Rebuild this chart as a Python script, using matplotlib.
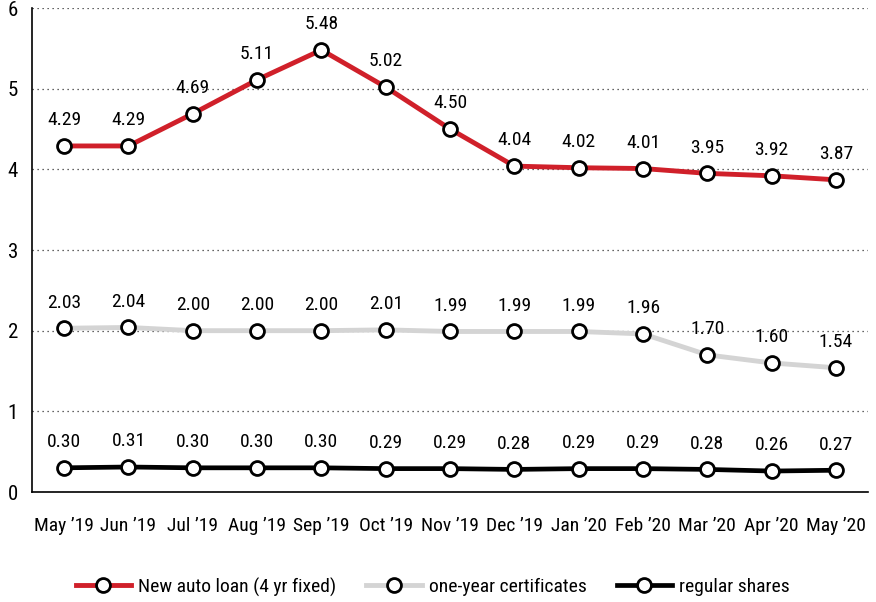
import matplotlib.pyplot as plt

# Data
months = ["May ’19", "Jun ’19", "Jul ’19", "Aug ’19", "Sep ’19", "Oct ’19", "Nov ’19",
          "Dec ’19", "Jan ’20", "Feb ’20", "Mar ’20", "Apr ’20", "May ’20"]
auto_loan = [4.29, 4.29, 4.69, 5.11, 5.48, 5.02, 4.50, 4.04, 4.02, 4.01, 3.95, 3.92, 3.87]
certificates = [2.03, 2.04, 2.00, 2.00, 2.00, 2.01, 1.99, 1.99, 1.99, 1.96, 1.70, 1.60, 1.54]
shares = [0.30, 0.31, 0.30, 0.30, 0.30, 0.29, 0.29, 0.28, 0.29, 0.29, 0.28, 0.26, 0.27]

plt.rcParams['font.family'] = ['Roboto Condensed', 'DejaVu Sans']
plt.rcParams['font.stretch'] = 'condensed'

fig = plt.figure(figsize=(8.76, 6.02), dpi=100)
ax = fig.add_axes([0.0365, 0.1827, 0.9545, 0.804])

x = list(range(len(months)))
series = [
    ('New auto loan (4 yr fixed)', auto_loan, '#d0202a', 3.5),
    ('one-year certificates', certificates, '#d4d4d4', 3.5),
    ('regular shares', shares, '#000000', 3.4),
]
for name, vals, color, lw in series:
    ax.plot(x, vals, color=color, lw=lw, marker='o', markersize=10,
            markerfacecolor='white', markeredgecolor='black', markeredgewidth=2,
            label=name, zorder=3)
    for xi, v in zip(x, vals):
        ax.annotate(f'{v:.2f}', (xi, v), xytext=(0, 12), textcoords='offset points',
                    ha='center', va='bottom', fontsize=14)

ax.set_xlim(-0.5, 12.5)
ax.set_ylim(0, 6)
ax.set_yticks([0, 1, 2, 3, 4, 5, 6])
ax.set_xticks(x)
ax.set_xticklabels(months)
ax.tick_params(axis='both', length=0, labelsize=14)
ax.tick_params(axis='x', pad=18)
ax.tick_params(axis='y', labelsize=15, pad=10)
ax.yaxis.grid(True, linestyle=(0, (1, 3)), color='#333333', lw=0.9)
ax.set_axisbelow(True)
ax.spines['top'].set_visible(False)
ax.spines['right'].set_visible(False)
ax.spines['left'].set_linewidth(1.2)
ax.spines['bottom'].set_linewidth(1.2)

fig.legend(loc='center', bbox_to_anchor=(0.494, 0.025), ncol=3, frameon=False,
           fontsize=14, handlelength=2.85, columnspacing=1.55, handletextpad=0.36)

fig.savefig('out.png', dpi=100)
